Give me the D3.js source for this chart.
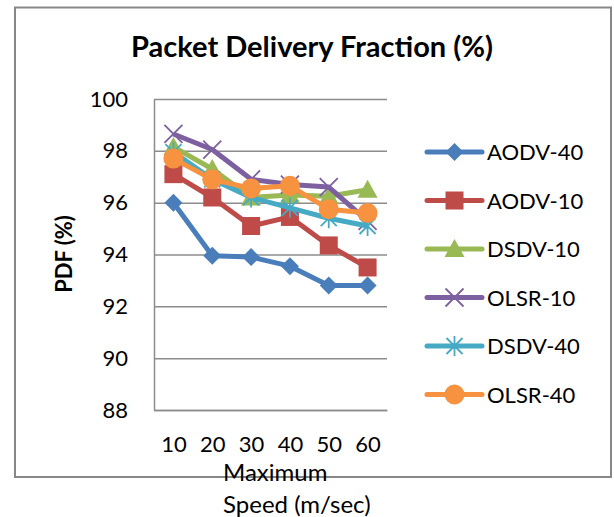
<!DOCTYPE html>
<html>
<head>
<meta charset="utf-8">
<script src="https://cdn.jsdelivr.net/npm/d3@7"></script>
<style>
  body { margin: 0; background: #fff; }
  svg { display: block; font-family: Lato, "Open Sans", sans-serif; }
  .grid line { stroke: #8c8c8c; stroke-width: 1.5; }
</style>
</head>
<body>
<svg id="chart" width="614" height="517"></svg>
<script>
"use strict";

// chart data
const speeds = ["10", "20", "30", "40", "50", "60"];
const yTicks = [88, 90, 92, 94, 96, 98, 100];

const aodv40 = [96.0, 93.95, 93.9, 93.55, 92.8, 92.8];
const aodv10 = [97.1, 96.2, 95.1, 95.45, 94.35, 93.5];
const dsdv10 = [98.15, 97.3, 96.2, 96.3, 96.25, 96.5];
const olsr10 = [98.65, 98.05, 96.9, 96.7, 96.6, 95.3];
const dsdv40 = [97.95, 96.9, 96.2, 95.8, 95.4, 95.1];
const olsr40 = [97.7, 96.9, 96.55, 96.65, 95.75, 95.6];

const series = [
  { name: "AODV-40", values: aodv40, color: "#4a7ebb", marker: "diamond" },
  { name: "AODV-10", values: aodv10, color: "#be4b48", marker: "square" },
  { name: "DSDV-10", values: dsdv10, color: "#98b954", marker: "triangle" },
  { name: "OLSR-10", values: olsr10, color: "#7d60a0", marker: "x" },
  { name: "DSDV-40", values: dsdv40, color: "#46aac5", marker: "star" },
  { name: "OLSR-40", values: olsr40, color: "#f69240", marker: "circle" }
];

let svg = d3.select("#chart"),
  margin = {top: 99, left: 154, right: 227, bottom: 107},
  width = 614 - margin.left - margin.right,
  height = 517 - margin.top - margin.bottom
;

// outer frame
svg.append("rect")
  .attr("x", 15).attr("y", 7.5)
  .attr("width", 596).attr("height", 469.5)
  .attr("fill", "#fff")
  .attr("stroke", "#878787")
  .attr("stroke-width", 2);

svg.append("text")
  .attr("x", 312).attr("y", 57)
  .attr("text-anchor", "middle")
  .attr("font-weight", "bold")
  .attr("font-size", 29)
  .text("Packet Delivery Fraction (%)");

let g = svg.append("g").attr("transform", "translate(" + margin.left + "," + margin.top + ")"),
  x = d3.scalePoint().domain(speeds).range([0, width]).padding(0.5),
  y = d3.scaleLinear().domain([88, 100]).range([height, 0])
;

// horizontal gridlines
g.append("g")
  .attr("class", "grid")
  .call(d3.axisLeft(y).tickValues(yTicks).tickSize(-width).tickFormat(""))
  .call(a => a.select(".domain").remove());

// y axis labels
g.append("g")
  .call(d3.axisLeft(y).tickValues(yTicks).tickSize(0).tickPadding(26).tickFormat(d3.format("d")))
  .call(a => a.select(".domain").attr("stroke", "#8c8c8c").attr("stroke-width", 1.5))
  .call(a => a.selectAll("text").attr("font-size", 22).attr("fill", "#000").attr("font-family", "Lato"));

// x axis
g.append("g")
  .attr("transform", "translate(0," + height + ")")
  .call(d3.axisBottom(x).tickSize(0).tickPadding(26))
  .call(a => a.select(".domain").attr("stroke", "#8c8c8c").attr("stroke-width", 1.5))
  .call(a => a.selectAll("text").attr("font-size", 22).attr("fill", "#000").attr("font-family", "Lato"));

svg.append("text")
  .attr("transform", "translate(72,254) rotate(-90)")
  .attr("text-anchor", "middle")
  .attr("font-weight", "bold")
  .attr("font-size", 22)
  .text("PDF (%)");

svg.append("text").attr("x", 223).attr("y", 481).attr("font-size", 24).text("Maximum");
svg.append("text").attr("x", 223).attr("y", 513).attr("font-size", 24).text("Speed (m/sec)");

function drawMarker(sel, kind, color) {
  if (kind === "diamond") {
    sel.append("path").attr("d", "M0,-9L9,0L0,9L-9,0Z").attr("fill", color);
  } else if (kind === "square") {
    sel.append("rect").attr("x", -9).attr("y", -9).attr("width", 18).attr("height", 18).attr("fill", color);
  } else if (kind === "triangle") {
    sel.append("path").attr("d", "M0,-10L10,8L-10,8Z").attr("fill", color);
  } else if (kind === "x") {
    sel.append("path").attr("d", "M-9,-9L9,9M-9,9L9,-9").attr("stroke", color).attr("stroke-width", 1.8).attr("fill", "none");
  } else if (kind === "star") {
    sel.append("path").attr("d", "M-8,-8L8,8M-8,8L8,-8M0,-10L0,10").attr("stroke", color).attr("stroke-width", 1.8).attr("fill", "none");
  } else {
    sel.append("circle").attr("r", 10).attr("fill", color);
  }
}

let line = d3.line()
  .x((d, i) => x(speeds[i]))
  .y(d => y(d));

series.forEach(function(s) {
  let sg = g.append("g");
  sg.append("path")
    .attr("d", line(s.values))
    .attr("fill", "none")
    .attr("stroke", s.color)
    .attr("stroke-width", 5)
    .attr("stroke-linejoin", "round");
  sg.selectAll(".pt")
    .data(s.values)
    .enter().append("g")
      .attr("transform", (d, i) => "translate(" + x(speeds[i]) + "," + y(d) + ")")
      .each(function() { drawMarker(d3.select(this), s.marker, s.color); });
});

// legend
let legend = svg.append("g").attr("transform", "translate(427,152)");
series.forEach(function(s, i) {
  let row = legend.append("g").attr("transform", "translate(0," + (i * 48.5) + ")");
  row.append("line")
    .attr("x1", 0).attr("x2", 55)
    .attr("stroke", s.color).attr("stroke-width", 5).attr("stroke-linecap", "round");
  drawMarker(row.append("g").attr("transform", "translate(27.5,0)"), s.marker, s.color);
  row.append("text")
    .attr("x", 60).attr("y", 8)
    .attr("font-size", 22)
    .text(s.name);
});
</script>
</body>
</html>
